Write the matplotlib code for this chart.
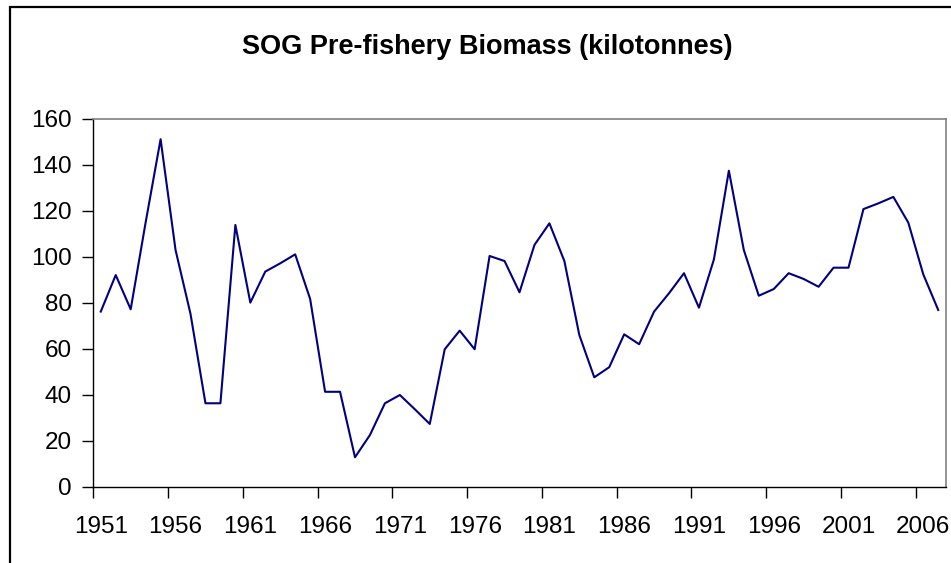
import matplotlib
matplotlib.use("Agg")
import matplotlib.pyplot as plt
from matplotlib.patches import Rectangle
from matplotlib.ticker import FixedLocator, NullFormatter

# Pre-fishery biomass by year (kilotonnes)
years = list(range(1951, 2008))
biomass = [
    76.2, 92.1, 77.2, 115.0, 151.2, 103.0, 75.2, 36.3, 36.3, 113.9,
    80.1, 93.6, 97.2, 101.1, 81.7, 41.3, 41.3, 12.8, 22.5, 36.3,
    39.9, 33.7, 27.3, 59.8, 67.9, 59.8, 100.4, 98.2, 84.6, 105.2,
    114.6, 98.2, 66.0, 47.6, 52.0, 66.3, 62.0, 76.2, 84.2, 92.9,
    77.9, 98.9, 137.5, 103.0, 83.1, 86.0, 92.9, 90.4, 87.0, 95.3,
    95.3, 120.8, 123.3, 126.1, 114.9, 92.4, 76.9,
]
title = "SOG Pre-fishery Biomass (kilotonnes)"

plt.rcParams['font.family'] = ['Liberation Sans', 'DejaVu Sans']

fig = plt.figure(figsize=(9.51, 5.63), dpi=100)
ax = fig.add_axes([93.3 / 951, 76.3 / 563, (945.7 - 93.3) / 951, (486.7 - 119) / 563])

pos = list(range(len(years)))
ax.plot(pos, biomass, color='#000080', linewidth=1.5)

ax.set_xlim(-0.5, len(years) - 0.5)
ax.set_ylim(0, 160)
ax.set_yticks(range(0, 161, 20))

# category axis: tick marks on boundaries, labels centred on categories
ax.xaxis.set_major_locator(FixedLocator([p - 0.5 for p in pos[::5]]))
ax.xaxis.set_major_formatter(NullFormatter())
ax.xaxis.set_minor_locator(FixedLocator(pos[::5]))
ax.set_xticklabels([str(y) for y in years[::5]], minor=True)
ax.tick_params(axis='x', which='minor', length=0, pad=21, labelsize=17.5)
ax.tick_params(axis='x', which='major', length=8, width=1, direction='out')
ax.tick_params(axis='y', length=8, width=1, direction='out', labelsize=17.5, pad=7.5)

for side in ['top', 'right']:
    ax.spines[side].set_color('#808080')
    ax.spines[side].set_linewidth(1.2)
for side in ['left', 'bottom']:
    ax.spines[side].set_color('black')
    ax.spines[side].set_linewidth(1)

fig.text(487.5 / 951, 1 - 47 / 563, title, ha='center', va='center',
         fontsize=19.5, fontweight='bold')

# chart area border (extends past the right and bottom edges)
fig.patches.append(Rectangle((10 / 951, -0.1), 1.2, 1 - 7 / 563 + 0.1,
                             transform=fig.transFigure, fill=False,
                             edgecolor='black', linewidth=1.6))

fig.savefig('out.png', dpi=100)
